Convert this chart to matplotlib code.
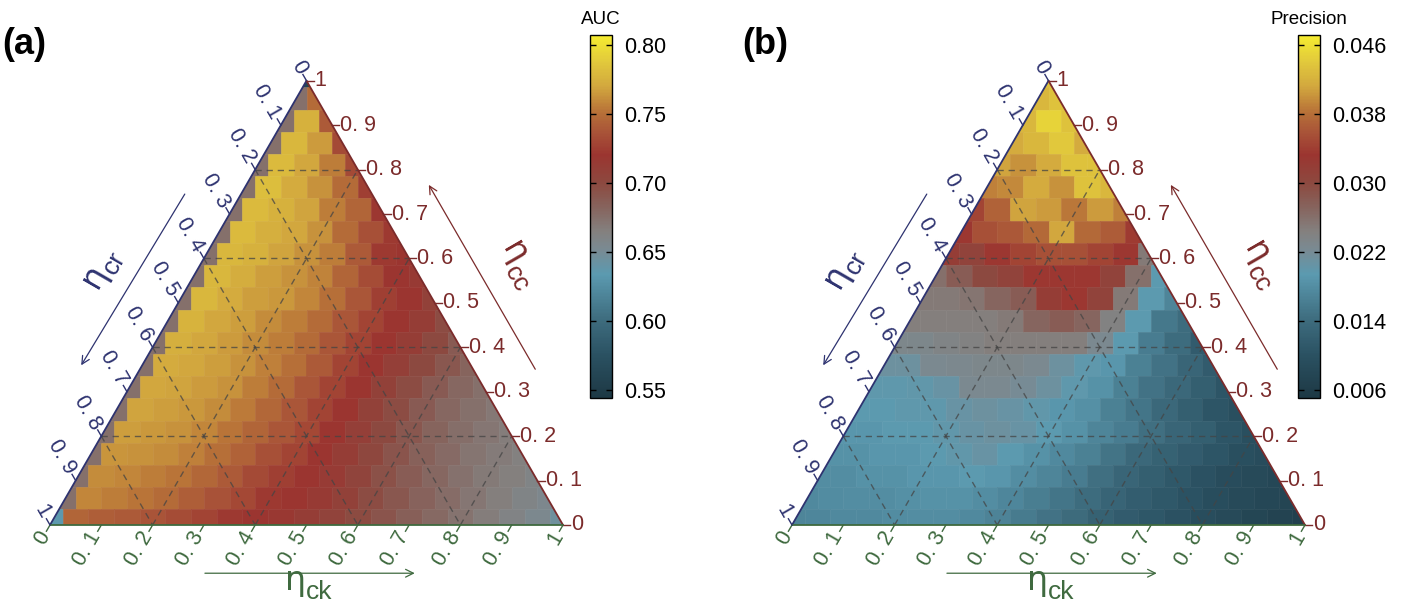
import numpy as np
import matplotlib
matplotlib.use("Agg")
import matplotlib.pyplot as plt
from matplotlib.colors import LinearSegmentedColormap, Normalize
from matplotlib.collections import PolyCollection
from matplotlib.patches import Polygon
from matplotlib.cm import ScalarMappable

plt.rcParams['font.family'] = ['Liberation Sans', 'DejaVu Sans']

# ---------------- data ----------------
# rows: eta_cc = 1.0, 0.95, ..., 0 ; columns: eta_ck = 0, 0.05, ...
CC_LEVELS = [1.00, 0.95, 0.90, 0.85, 0.80, 0.75, 0.70, 0.65, 0.60, 0.55, 0.50,
             0.45, 0.40, 0.35, 0.30, 0.25, 0.20, 0.15, 0.10, 0.05, 0.00]
CK_LEVELS = [0.00, 0.05, 0.10, 0.15, 0.20, 0.25, 0.30, 0.35, 0.40, 0.45, 0.50,
             0.55, 0.60, 0.65, 0.70, 0.75, 0.80, 0.85, 0.90, 0.95, 1.00]

AUC = [
    [0.560],
    [0.675, 0.748],
    [0.675, 0.775, 0.740],
    [0.675, 0.778, 0.765, 0.732],
    [0.675, 0.780, 0.770, 0.755, 0.732],
    [0.675, 0.782, 0.772, 0.762, 0.748, 0.725],
    [0.675, 0.780, 0.775, 0.768, 0.755, 0.745, 0.721],
    [0.675, 0.780, 0.774, 0.770, 0.762, 0.748, 0.735, 0.722],
    [0.675, 0.778, 0.775, 0.768, 0.762, 0.755, 0.740, 0.722, 0.720],
    [0.675, 0.778, 0.773, 0.766, 0.762, 0.757, 0.745, 0.733, 0.720, 0.715],
    [0.675, 0.778, 0.772, 0.766, 0.764, 0.758, 0.750, 0.738, 0.725, 0.720, 0.708],
    [0.675, 0.776, 0.770, 0.766, 0.760, 0.755, 0.748, 0.738, 0.728, 0.720, 0.712, 0.698],
    [0.675, 0.774, 0.770, 0.765, 0.760, 0.755, 0.748, 0.738, 0.728, 0.720, 0.712, 0.700, 0.688],
    [0.675, 0.772, 0.770, 0.766, 0.762, 0.756, 0.750, 0.740, 0.728, 0.720, 0.710, 0.700, 0.690, 0.682],
    [0.675, 0.770, 0.768, 0.765, 0.762, 0.755, 0.748, 0.738, 0.728, 0.720, 0.708, 0.698, 0.688, 0.680, 0.675],
    [0.675, 0.768, 0.766, 0.764, 0.760, 0.754, 0.746, 0.738, 0.728, 0.720, 0.708, 0.698, 0.688, 0.680, 0.675, 0.670],
    [0.675, 0.766, 0.764, 0.762, 0.758, 0.752, 0.745, 0.738, 0.730, 0.720, 0.710, 0.700, 0.690, 0.682, 0.676, 0.671, 0.667],
    [0.675, 0.763, 0.762, 0.760, 0.756, 0.750, 0.744, 0.735, 0.728, 0.720, 0.712, 0.702, 0.692, 0.684, 0.678, 0.672, 0.668, 0.664],
    [0.675, 0.760, 0.758, 0.755, 0.752, 0.746, 0.740, 0.732, 0.725, 0.720, 0.714, 0.705, 0.695, 0.687, 0.680, 0.674, 0.669, 0.665, 0.660],
    [0.675, 0.758, 0.755, 0.752, 0.748, 0.742, 0.736, 0.730, 0.722, 0.720, 0.715, 0.708, 0.698, 0.690, 0.683, 0.677, 0.671, 0.666, 0.660, 0.655],
    [0.635, 0.745, 0.742, 0.740, 0.737, 0.733, 0.728, 0.722, 0.720, 0.717, 0.712, 0.706, 0.699, 0.692, 0.685, 0.679, 0.673, 0.667, 0.661, 0.654, 0.645],
]

PRECISION = [
    [0.0435],
    [0.0425, 0.0435],
    [0.0425, 0.0450, 0.0435],
    [0.0415, 0.0425, 0.0440, 0.0415],
    [0.0410, 0.0400, 0.0415, 0.0435, 0.0435],
    [0.0390, 0.0395, 0.0415, 0.0400, 0.0435, 0.0425],
    [0.0345, 0.0370, 0.0410, 0.0405, 0.0385, 0.0405, 0.0390],
    [0.0334, 0.0355, 0.0362, 0.0375, 0.0412, 0.0375, 0.0365, 0.0338],
    [0.0320, 0.0310, 0.0334, 0.0345, 0.0355, 0.0355, 0.0345, 0.0334, 0.0250],
    [0.0260, 0.0280, 0.0300, 0.0310, 0.0334, 0.0334, 0.0334, 0.0310, 0.0260, 0.0195],
    [0.0250, 0.0250, 0.0255, 0.0270, 0.0280, 0.0320, 0.0334, 0.0310, 0.0250, 0.0195, 0.0170],
    [0.0245, 0.0245, 0.0245, 0.0245, 0.0250, 0.0270, 0.0280, 0.0270, 0.0240, 0.0195, 0.0155, 0.0140],
    [0.0230, 0.0230, 0.0235, 0.0240, 0.0245, 0.0245, 0.0245, 0.0245, 0.0225, 0.0195, 0.0160, 0.0140, 0.0115],
    [0.0210, 0.0210, 0.0225, 0.0228, 0.0230, 0.0230, 0.0225, 0.0210, 0.0198, 0.0190, 0.0165, 0.0148, 0.0130, 0.0115],
    [0.0198, 0.0198, 0.0200, 0.0205, 0.0225, 0.0225, 0.0220, 0.0210, 0.0198, 0.0185, 0.0165, 0.0148, 0.0135, 0.0120, 0.0105],
    [0.0195, 0.0195, 0.0198, 0.0198, 0.0205, 0.0210, 0.0205, 0.0200, 0.0190, 0.0182, 0.0165, 0.0152, 0.0135, 0.0120, 0.0105, 0.0095],
    [0.0190, 0.0190, 0.0195, 0.0195, 0.0200, 0.0205, 0.0210, 0.0205, 0.0195, 0.0185, 0.0170, 0.0160, 0.0145, 0.0130, 0.0120, 0.0105, 0.0095],
    [0.0185, 0.0185, 0.0190, 0.0190, 0.0195, 0.0200, 0.0205, 0.0195, 0.0185, 0.0175, 0.0165, 0.0150, 0.0135, 0.0125, 0.0115, 0.0105, 0.0095, 0.0090],
    [0.0180, 0.0180, 0.0185, 0.0185, 0.0190, 0.0190, 0.0195, 0.0190, 0.0180, 0.0170, 0.0160, 0.0145, 0.0130, 0.0120, 0.0110, 0.0100, 0.0090, 0.0085, 0.0080],
    [0.0175, 0.0178, 0.0180, 0.0180, 0.0182, 0.0185, 0.0185, 0.0180, 0.0172, 0.0162, 0.0152, 0.0140, 0.0128, 0.0118, 0.0110, 0.0102, 0.0092, 0.0085, 0.0080, 0.0075],
    [0.0170, 0.0172, 0.0175, 0.0175, 0.0178, 0.0180, 0.0180, 0.0175, 0.0168, 0.0158, 0.0148, 0.0138, 0.0126, 0.0116, 0.0108, 0.0100, 0.0092, 0.0085, 0.0078, 0.0072, 0.0068],
]

AXIS_TICKS = [0.0, 0.1, 0.2, 0.3, 0.4, 0.5, 0.6, 0.7, 0.8, 0.9, 1.0]
AXIS_TICK_LABELS = ["0", "0. 1", "0. 2", "0. 3", "0. 4", "0. 5", "0. 6", "0. 7", "0. 8", "0. 9", "1"]
GRID_VALUES = [0.2, 0.4, 0.6, 0.8]

AUC_TICKS = [0.55, 0.60, 0.65, 0.70, 0.75, 0.80]
AUC_TICK_LABELS = ["0.55", "0.60", "0.65", "0.70", "0.75", "0.80"]
AUC_RANGE = (0.544, 0.807)
PREC_TICKS = [0.006, 0.014, 0.022, 0.030, 0.038, 0.046]
PREC_TICK_LABELS = ["0.006", "0.014", "0.022", "0.030", "0.038", "0.046"]
PREC_RANGE = (0.00503, 0.04716)

# ---------------- style ----------------
CMAP = LinearSegmentedColormap.from_list("auc", [
    (0.00, "#1d3844"), (0.12, "#2b5263"), (0.22, "#3f6e80"), (0.34, "#5b9ab0"),
    (0.41, "#7a8a92"), (0.46, "#84807e"), (0.52, "#866660"), (0.59, "#8c4a40"),
    (0.67, "#9b3530"), (0.73, "#a85238"), (0.79, "#b87238"), (0.86, "#d2a83e"),
    (0.93, "#e2ca3c"), (1.00, "#f5ec30")])

C_CR = "#2e3370"   # left axis (navy)
C_CC = "#7b2b2b"   # right axis (dark red)
C_CK = "#3f6a3f"   # bottom axis (green)
GRID_C = "#444444"

W, H = 1404, 606
SQ = np.sqrt(3) / 2
BASE_PX = 513.0
BOTTOM_PY = 525.0
TILE_W = 0.05
TILE_H = 0.05 * SQ
ROW_SHIFT = 0.2
TICK_L = 0.014
TICK_FS = 15.5
CB_FS = 15.5


def tern(cc, ck):
    return ck + cc / 2.0, cc * SQ


fig = plt.figure(figsize=(W / 100, H / 100), dpi=100)


def make_ax(left_corner_px, x0, x1):
    ax = fig.add_axes([x0 / W, 0, (x1 - x0) / W, 1])
    ax.set_xlim((x0 - left_corner_px) / BASE_PX, (x1 - left_corner_px) / BASE_PX)
    ax.set_ylim((BOTTOM_PY - H) / BASE_PX, BOTTOM_PY / BASE_PX)
    ax.axis("off")
    return ax


def title_eta(ax, center, theta, sub, color):
    # eta with a lowered subscript of nearly the same size
    th = np.deg2rad(theta)
    u = np.array([np.cos(th), np.sin(th)])
    n = np.array([np.sin(th), -np.cos(th)])
    eta_w = 20.0   # px
    total = eta_w + 1 + 27.0
    anchor = np.array(center) - (total / 2.0) * u / BASE_PX
    ax.text(anchor[0], anchor[1], "η", fontsize=24, color=color, rotation=theta,
            rotation_mode="anchor", ha="left", va="baseline",
            family=["DejaVu Sans"])
    off = ((eta_w + 1) * u + 9.0 * n) * 0.72
    ax.annotate(sub, xy=(anchor[0], anchor[1]), xycoords="data",
                xytext=(off[0], off[1]), textcoords="offset points",
                fontsize=19, color=color, rotation=theta, rotation_mode="anchor",
                ha="left", va="baseline")


def draw_panel(ax, rows, vmin, vmax):
    norm = Normalize(vmin=vmin, vmax=vmax)
    verts, vals = [], []
    for k, row in enumerate(rows):
        cc = CC_LEVELS[k]
        for j, v in enumerate(row):
            x, y = tern(cc, CK_LEVELS[j])
            y += ROW_SHIFT * TILE_H
            verts.append([(x - TILE_W / 2, y - TILE_H / 2), (x + TILE_W / 2, y - TILE_H / 2),
                          (x + TILE_W / 2, y + TILE_H / 2), (x - TILE_W / 2, y + TILE_H / 2)])
            vals.append(v)
    tri = Polygon([(0, 0), (1, 0), (0.5, SQ)], closed=True, facecolor="none",
                  edgecolor="none", transform=ax.transData)
    ax.add_patch(tri)
    coll = PolyCollection(verts, array=np.array(vals), cmap=CMAP, norm=norm,
                          edgecolors="face", linewidths=0.4, zorder=1)
    ax.add_collection(coll)
    coll.set_clip_path(tri)

    # dashed grid
    for v in GRID_VALUES:
        for (a, b) in [((v, 0.0), (v, 1 - v)),          # const eta_cc
                       ((0.0, v), (1 - v, v)),          # const eta_ck  (cc, ck)
                       ((1 - v, 0.0), (0.0, 1 - v))]:   # const eta_cr
            p1 = tern(*a)
            p2 = tern(*b)
            ax.plot([p1[0], p2[0]], [p1[1], p2[1]], color=GRID_C, lw=1.0,
                    ls=(0, (4.5, 3.5)), alpha=0.75, zorder=2)

    # edges
    ax.plot([0, 0.5], [0, SQ], color=C_CR, lw=1.3, zorder=3, solid_capstyle="round")
    ax.plot([0.5, 1], [SQ, 0], color=C_CC, lw=1.3, zorder=3, solid_capstyle="round")
    ax.plot([0, 1], [0, 0], color=C_CK, lw=1.3, zorder=3, solid_capstyle="round")

    # ticks + labels
    for v, lab in zip(AXIS_TICKS, AXIS_TICK_LABELS):
        # right axis: eta_cc
        x, y = tern(v, 1 - v)
        ax.plot([x, x + TICK_L], [y, y], color=C_CC, lw=1.0, zorder=3)
        ax.text(x + TICK_L + 0.002, y, lab, color=C_CC, fontsize=TICK_FS,
                ha="left", va="center")
        # left axis: eta_cr
        x, y = tern(1 - v, 0.0)
        d = np.array([-0.5, SQ]) * TICK_L
        ax.plot([x, x + d[0]], [y, y + d[1]], color=C_CR, lw=1.0, zorder=3)
        d2 = np.array([-0.5, SQ]) * (TICK_L + 0.004)
        ax.text(x + d2[0], y + d2[1], lab, color=C_CR, fontsize=TICK_FS,
                rotation=-60, rotation_mode="anchor", ha="right", va="center")
        # bottom axis: eta_ck
        x, y = tern(0.0, v)
        d = np.array([-0.5, -SQ]) * TICK_L
        ax.plot([x, x + d[0]], [y, y + d[1]], color=C_CK, lw=1.0, zorder=3)
        d2 = np.array([-0.5, -SQ]) * (TICK_L + 0.004)
        ax.text(x + d2[0], y + d2[1], lab, color=C_CK, fontsize=TICK_FS,
                rotation=60, rotation_mode="anchor", ha="right", va="center")

    # axis arrows (parallel to the edges)
    def left_pt(t, d):
        return (0.5 * t - SQ * d, SQ * t + 0.5 * d)

    def right_pt(t, d):
        return (1 - 0.5 * t + SQ * d, SQ * t + 0.5 * d)

    ap = dict(arrowstyle="->", lw=0.9, shrinkA=0, shrinkB=0, mutation_scale=14)
    ax.annotate("", xy=left_pt(0.30, 0.103), xytext=left_pt(0.69, 0.095),
                arrowprops=dict(ap, color=C_CR))
    ax.annotate("", xy=right_pt(0.705, 0.105), xytext=right_pt(0.29, 0.105),
                arrowprops=dict(ap, color=C_CC))
    ax.annotate("", xy=(0.711, -0.094), xytext=(0.302, -0.094),
                arrowprops=dict(ap, color=C_CK))

    title_eta(ax, left_pt(0.49, 0.15), 60, "cr", C_CR)
    title_eta(ax, right_pt(0.48, 0.165), -60, "cc", C_CC)
    title_eta(ax, (0.504, -0.126), 0, "ck", C_CK)
    return norm


def colorbar(norm, left_px, ticks, labels, title):
    cax = fig.add_axes([left_px / W, (H - 398) / H, 22 / W, 363 / H])
    cb = fig.colorbar(ScalarMappable(norm=norm, cmap=CMAP), cax=cax)
    cb.set_ticks(ticks)
    cb.set_ticklabels(labels)
    cb.outline.set_linewidth(1.0)
    cax.tick_params(direction="in", length=4, width=1, left=True, right=True,
                    labelsize=CB_FS, pad=9)
    cax.set_title(title, fontsize=13.5, pad=8)


ax_a = make_ax(50, 0, 702)
norm_a = draw_panel(ax_a, AUC, *AUC_RANGE)
ax_b = make_ax(792, 702, 1404)
norm_b = draw_panel(ax_b, PRECISION, *PREC_RANGE)

colorbar(norm_a, 590, AUC_TICKS, AUC_TICK_LABELS, "AUC")
colorbar(norm_b, 1298, PREC_TICKS, PREC_TICK_LABELS, "Precision")

fig.text(2 / W, 1 - 45 / H, "(a)", fontsize=26, weight="bold", ha="left", va="center")
fig.text(742 / W, 1 - 45 / H, "(b)", fontsize=26, weight="bold", ha="left", va="center")

fig.savefig("out.png", dpi=100)
